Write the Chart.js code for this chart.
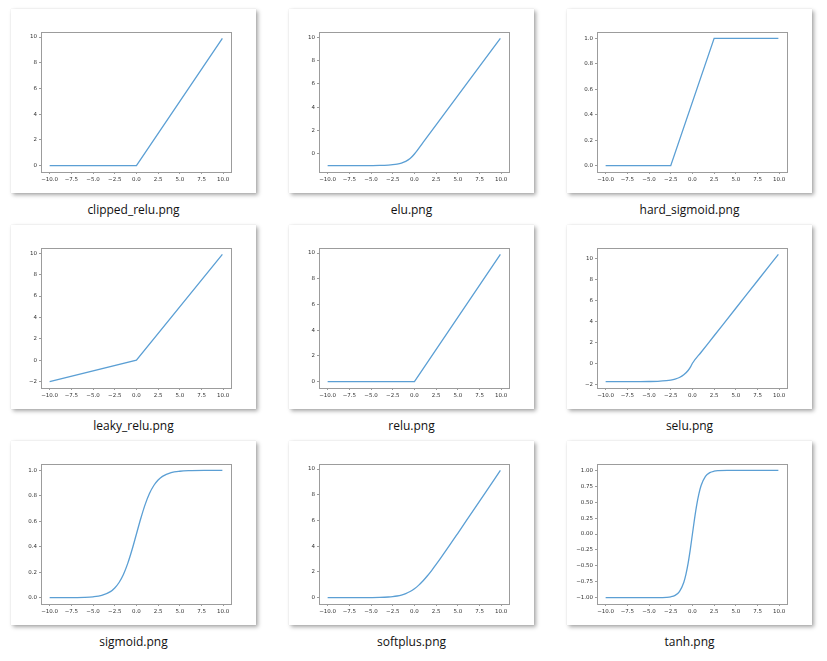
<!DOCTYPE html>
<html><head><meta charset="utf-8">
<script src="https://cdn.jsdelivr.net/npm/chart.js@4/dist/chart.umd.min.js"></script>
<style>
html,body{margin:0;padding:0;background:#fff;width:827px;height:661px;overflow:hidden;position:relative;}
.card{position:absolute;width:245px;height:184px;background:#fff;box-shadow:2px 2px 4px rgba(0,0,0,0.35),0 0 1px rgba(0,0,0,0.12);}
.card canvas{display:block;}
.cap{position:absolute;width:245px;text-align:center;font-family:"Open Sans","Noto Sans",sans-serif;font-size:12px;color:#111;}
</style></head><body>
<script>
// ---- data ----
const names = ["clipped_relu.png","elu.png","hard_sigmoid.png","leaky_relu.png","relu.png","selu.png","sigmoid.png","softplus.png","tanh.png"];
const xTicks = [-10,-7.5,-5,-2.5,0,2.5,5,7.5,10];

const clippedReluX = [-10,0,9.9];
const clippedReluY = [0,0,9.9];

const eluX = [-10,-8,-6,-5,-4,-3,-2.5,-2,-1.5,-1,-0.5,0,1,2.5,5,7.5,9.9];
const eluY = [-1.0,-1.0,-0.998,-0.993,-0.982,-0.95,-0.918,-0.865,-0.777,-0.632,-0.393,0,1,2.5,5,7.5,9.9];

const hardSigmoidX = [-10,-2.5,2.5,9.9];
const hardSigmoidY = [0,0,1,1];

const leakyReluX = [-10,0,9.9];
const leakyReluY = [-2,0,9.9];

const reluX = [-10,0,9.9];
const reluY = [0,0,9.9];

const seluX = [-10,-8,-6,-5,-4,-3,-2.5,-2,-1.5,-1,-0.5,-0.2,0,1,2.5,5,7.5,9.9];
const seluY = [-1.758,-1.758,-1.754,-1.746,-1.726,-1.671,-1.614,-1.52,-1.366,-1.111,-0.692,-0.319,0,1.051,2.627,5.254,7.88,10.402];

const sigmoidX = [-10,-8,-6,-5,-4,-3,-2.5,-2,-1.5,-1,-0.5,0,0.5,1,1.5,2,2.5,3,4,5,6,8,9.9];
const sigmoidY = [0.00005,0.0003,0.0025,0.0067,0.018,0.047,0.076,0.119,0.182,0.269,0.378,0.5,0.622,0.731,0.818,0.881,0.924,0.953,0.982,0.993,0.9975,0.9997,0.99995];

const softplusX = [-10,-8,-6,-5,-4,-3,-2.5,-2,-1.5,-1,-0.5,0,0.5,1,1.5,2,2.5,3,4,5,6,8,9.9];
const softplusY = [0.00005,0.0003,0.0025,0.0067,0.018,0.049,0.079,0.127,0.201,0.313,0.474,0.693,0.974,1.313,1.701,2.127,2.579,3.049,4.018,5.007,6.0025,8.0003,9.9];

const tanhX = [-10,-6,-4,-3,-2.5,-2,-1.5,-1,-0.75,-0.5,-0.25,0,0.25,0.5,0.75,1,1.5,2,2.5,3,4,6,9.9];
const tanhY = [-1,-1,-0.9993,-0.995,-0.987,-0.964,-0.905,-0.762,-0.635,-0.462,-0.245,0,0.245,0.462,0.635,0.762,0.905,0.964,0.987,0.995,0.9993,1,1];

const yTicksInt = [0,2,4,6,8,10];
const yTicksLeaky = [-2,0,2,4,6,8,10];
const yTicksFrac = [0.0,0.2,0.4,0.6,0.8,1.0];
const yTicksTanh = [-1.0,-0.75,-0.5,-0.25,0,0.25,0.5,0.75,1.0];

const charts = [
  {x:clippedReluX,y:clippedReluY,ticks:yTicksInt,dec:0,smooth:false},
  {x:eluX,y:eluY,ticks:yTicksInt,dec:0,smooth:true},
  {x:hardSigmoidX,y:hardSigmoidY,ticks:yTicksFrac,dec:1,smooth:false},
  {x:leakyReluX,y:leakyReluY,ticks:yTicksLeaky,dec:0,smooth:false},
  {x:reluX,y:reluY,ticks:yTicksInt,dec:0,smooth:false},
  {x:seluX,y:seluY,ticks:yTicksLeaky,dec:0,smooth:true},
  {x:sigmoidX,y:sigmoidY,ticks:yTicksFrac,dec:1,smooth:true},
  {x:softplusX,y:softplusY,ticks:yTicksInt,dec:0,smooth:true},
  {x:tanhX,y:tanhY,ticks:yTicksTanh,dec:2,smooth:true}
];

// ---- layout ----
const colX = [11,289,567];
const rowY = [9,225,441];
const FRAME = '#9c9c9c';
const fmt = (v,d)=> (v<0?'\u2212':'') + Math.abs(v).toFixed(d);

const framePlugin = {
  id:'frame',
  afterDraw(chart){
    const {ctx, chartArea:a} = chart;
    ctx.save();
    ctx.strokeStyle = FRAME; ctx.lineWidth = 1;
    ctx.strokeRect(Math.round(a.left)+0.5, Math.round(a.top)+0.5, Math.round(a.right-a.left), Math.round(a.bottom-a.top));
    ctx.restore();
  }
};

charts.forEach((c,i)=>{
  const cx = colX[i%3], cy = rowY[Math.floor(i/3)];
  const card = document.createElement('div');
  card.className='card'; card.style.left=cx+'px'; card.style.top=cy+'px';
  const cv = document.createElement('canvas'); cv.width=245; cv.height=184;
  card.appendChild(cv); document.body.appendChild(card);
  const cap = document.createElement('div');
  cap.className='cap'; cap.style.left=cx+'px'; cap.style.top=(cy+192)+'px';
  cap.textContent = names[i]; document.body.appendChild(cap);

  const xmin = Math.min(...c.x), xmax = Math.max(...c.x);
  const ymin = Math.min(...c.y), ymax = Math.max(...c.y);
  const mx = (xmax-xmin)*0.05, my = (ymax-ymin)*0.05;
  const pts = c.x.map((v,k)=>({x:v,y:c.y[k]}));
  const tickFont = {family:'"DejaVu Sans"', size:5.5};
  new Chart(cv,{
    type:'line',
    data:{datasets:[{data:pts,borderColor:'#5b9fd4',borderWidth:1.3,pointRadius:0,fill:false,
      cubicInterpolationMode: c.smooth?'monotone':'default', tension:0}]},
    options:{
      responsive:false, animation:false, devicePixelRatio:1,
      layout:{padding:{top:23,right:25,left:0,bottom:0}},
      plugins:{legend:{display:false},tooltip:{enabled:false}},
      scales:{
        x:{type:'linear',min:xmin-mx,max:xmax+mx,
          afterBuildTicks:s=>{s.ticks=xTicks.map(v=>({value:v}));},
          afterFit:s=>{s.height=21;},
          grid:{drawOnChartArea:false,drawTicks:true,tickLength:2,color:FRAME},
          border:{display:false},
          ticks:{font:tickFont,color:'#333',padding:2,maxRotation:0,autoSkip:false,callback:v=>fmt(v,1)}},
        y:{type:'linear',min:ymin-my,max:ymax+my,
          afterBuildTicks:s=>{s.ticks=c.ticks.map(v=>({value:v}));},
          afterFit:s=>{s.width=30;},
          grid:{drawOnChartArea:false,drawTicks:true,tickLength:2,color:FRAME},
          border:{display:false},
          ticks:{font:tickFont,color:'#333',padding:2,autoSkip:false,callback:v=>fmt(v,c.dec)}}
      }
    },
    plugins:[framePlugin]
  });
});
</script>
</body></html>
